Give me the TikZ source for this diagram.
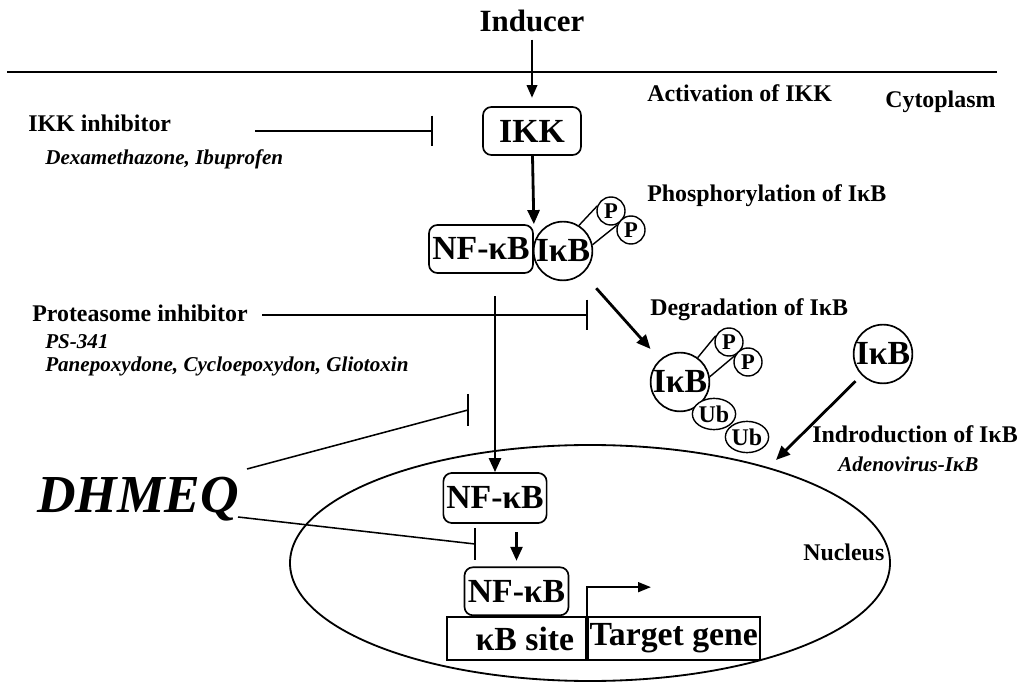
\documentclass[tikz,border=0pt]{standalone}
\usepackage{fontspec}
\setmainfont{Liberation Serif}
\usetikzlibrary{positioning,arrows.meta,shapes.geometric}

\tikzset{
  lbl/.style={font=\fontsize{17}{20}\selectfont\bfseries, anchor=base west, inner sep=0pt},
  drug/.style={font=\fontsize{15}{18}\selectfont\bfseries\itshape, anchor=base west, inner sep=0pt},
  mol/.style={font=\fontsize{24}{27}\selectfont\bfseries, inner sep=0pt},
  rbox/.style={mol, draw, line width=1.2pt, rounded corners=6pt, minimum width=2.6cm, minimum height=1.2cm},
  ring/.style={mol, draw, line width=1.2pt, circle, minimum size=1.45cm},
  phos/.style={draw, line width=1pt, circle, fill=white, inner sep=0pt, minimum size=0.7cm, font=\fontsize{16}{18}\selectfont\bfseries},
  ubq/.style={draw, line width=1pt, ellipse, fill=white, inner sep=0pt, minimum width=0.95cm, minimum height=0.78cm, font=\fontsize{17}{19}\selectfont\bfseries},
  act/.style={line width=2pt, -{Triangle[length=10pt,width=8.5pt]}},
  inh/.style={line width=1.1pt, -{Bar[width=22pt]}},
  dna/.style={mol, draw, line width=1.2pt, minimum height=1.075cm},
}

\begin{document}
\begin{tikzpicture}[x=0.025cm, y=-0.025cm]
  \useasboundingbox (0,0) rectangle (1021,682);
  % cell membrane and nucleus
  \draw[line width=1.2pt] (7,72) -- (997,72);
  \draw[line width=1.3pt] (590,563) ellipse [x radius=300, y radius=118];

  % inducer and IKK
  \node[font=\fontsize{22}{26}\selectfont\bfseries, anchor=base, inner sep=2pt] (inducer) at (532,32) {Inducer};
  \node[rbox, minimum width=2.45cm] (ikk) at (532,131) {IKK};
  \node[lbl] (actlbl) at (647,102) {Activation of IKK};
  \node[lbl] (cyto) at (885,108) {Cytoplasm};

  % NF-kB / IkB complex
  \node[rbox] (nfkb) at (481,249) {NF-κB};
  \node[ring] (ikb) at (563,251) {IκB};
  \node[phos] (p1) at (611,211) {P};
  \node[phos] (p2) at (631,230) {P};
  \draw[line width=1pt] (ikb.58) -- (p1.160);
  \draw[line width=1pt] (ikb.12) -- (p2.160);
  \node[lbl] (phoslbl) at (647,202) {Phosphorylation of IκB};

  % degradation
  \node[lbl] (deglbl) at (650,316) {Degradation of IκB};
  \node[ring] (degikb) at (680,382) {IκB};
  \node[phos] (degp1) at (729,342) {P};
  \node[phos] (degp2) at (748,362) {P};
  \draw[line width=1pt] (degikb.54) -- (degp1.155);
  \draw[line width=1pt] (degikb.10) -- (degp2.155);
  \node[ubq] (ub1) at (714,414) {Ub};
  \node[ubq] (ub2) at (747,437) {Ub};

  % introduced IkB
  \node[ring] (freeikb) at (883,354) {IκB};
  \coordinate (imp) at (776,460);
  \node[lbl] (intlbl) at (812,442) {Indroduction of IκB};
  \node[drug] (adeno) at (838,472) {Adenovirus-IκB};

  % nucleus
  \node[rbox, minimum width=2.58cm, minimum height=1.25cm] (nucnf) at (495,498) {NF-κB};
  \node[dna, minimum width=3.475cm] (kbsite) at (516.5,638.5) {\hspace{12pt}κB site};
  \node[dna, minimum width=4.3cm, right=0pt of kbsite] (target) {Target gene};
  \node[rbox, above=0pt of kbsite] (dnanf) {NF-κB};
  \node[lbl] (nuclbl) at (803,560) {Nucleus};

  % inhibitors
  \node[lbl] (ikkinh) at (28,132) {IKK inhibitor};
  \node[drug] (dexa) at (45,165) {Dexamethazone, Ibuprofen};
  \node[lbl] (protinh) at (32,322) {Proteasome inhibitor};
  \node[drug] (ps) at (45,349) {PS-341};
  \node[drug] (pane) at (45,372) {Panepoxydone, Cycloepoxydon, Gliotoxin};
  \node[font=\fontsize{38}{44}\selectfont\bfseries\itshape, anchor=base west, inner sep=0pt] (dhmeq) at (37,512) {DHMEQ};
  \coordinate (ikkinh-s) at (255,131);
  \coordinate (ikkinh-e) at (433,131);
  \coordinate (protinh-s) at (262,315);
  \coordinate (protinh-e) at (588,315);
  \coordinate (dh-a) at (247,469);
  \coordinate (dh-ae) at (468,410);
  \coordinate (dh-b) at (238,517);
  \coordinate (dh-be) at (475,544);

  % activation arrows
  \draw[line width=1.4pt, -{Triangle[length=9pt,width=7.5pt]}, shorten <=3pt, shorten >=6pt] (inducer) -- (ikk);
  \draw[act] (ikk) -- (nfkb.north east);
  \draw[act, shorten <=16pt] (nfkb.south -| nucnf.north) -- (nucnf.north);
  \draw[act, shorten <=14pt, shorten >=10pt] (ikb) -- (degikb);
  \draw[act, shorten <=6pt] (freeikb) -- (imp);
  \draw[act, shorten <=6pt, shorten >=4pt] (nucnf.south -| dnanf.north) -- (dnanf.north);
  \draw[line width=1.1pt, -{Triangle[length=9pt,width=7pt]}] (target.north west) -- ++(0,-29) -- ++(64,0);

  % inhibition lines
  \draw[inh] (ikkinh-s) -- (ikkinh-e);
  \draw[inh] (protinh-s) -- (protinh-e);
  \draw[line width=1.1pt] (dh-a) -- (dh-ae);
  \draw[line width=1.1pt] (dh-ae) ++(0,-16) -- ++(0,32);
  \draw[line width=1.1pt] (dh-b) -- (dh-be);
  \draw[line width=1.1pt] (dh-be) ++(0,-16) -- ++(0,32);
\end{tikzpicture}
\end{document}
